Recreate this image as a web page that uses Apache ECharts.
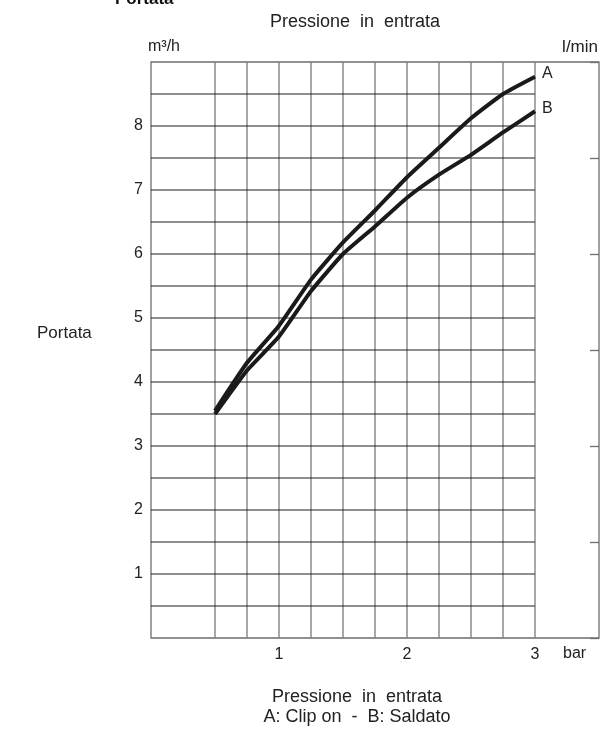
<!DOCTYPE html>
<html>
<head>
<meta charset="utf-8">
<script src="https://cdn.jsdelivr.net/npm/echarts@6/dist/echarts.min.js"></script>
<style>html,body{margin:0;padding:0;background:#fff;}#c{width:607px;height:733px;}</style>
</head>
<body>
<div id="c"></div>
<script>
// Data
var pressure = [0.5, 0.75, 1.0, 1.25, 1.5, 1.75, 2.0, 2.25, 2.5, 2.75, 3.0];
var flowA = [3.55, 4.30, 4.88, 5.60, 6.18, 6.68, 7.20, 7.66, 8.12, 8.50, 8.77];
var flowB = [3.50, 4.18, 4.71, 5.42, 6.00, 6.43, 6.88, 7.24, 7.55, 7.90, 8.23];
var xGridLines = [0.5, 0.75, 1.0, 1.25, 1.5, 1.75, 2.0, 2.25, 2.5, 2.75, 3.0];
var yGridLines = [0.5, 1, 1.5, 2, 2.5, 3, 3.5, 4, 4.5, 5, 5.5, 6, 6.5, 7, 7.5, 8, 8.5];
var xTickLabels = [1, 2, 3];
var yTickLabels = [1, 2, 3, 4, 5, 6, 7, 8];

var FONT = 'Liberation Sans';
var chart = echarts.init(document.getElementById('c'), null, {renderer: 'canvas'});

function pairs(xs, ys) { return xs.map(function (x, i) { return [x, ys[i]]; }); }

var option = {
  animation: false,
  backgroundColor: '#fff',
  textStyle: {fontFamily: FONT},
  grid: {left: 151, right: 8, top: 62, bottom: 95, show: true, borderColor: '#6e6e6e', borderWidth: 1.3, backgroundColor: 'transparent'},
  xAxis: {
    type: 'value', min: 0, max: 3.5, interval: 0.5,
    axisLine: {show: false}, axisTick: {show: false}, splitLine: {show: false},
    axisLabel: {
      margin: 9, color: '#222', fontSize: 16, fontFamily: FONT,
      formatter: function (v) { return xTickLabels.indexOf(v) >= 0 ? String(v) : ''; }
    }
  },
  yAxis: [{
    type: 'value', min: 0, max: 9, interval: 1,
    axisLine: {show: false}, axisTick: {show: false}, splitLine: {show: false},
    axisLabel: {
      margin: 8, color: '#222', fontSize: 16, fontFamily: FONT,
      formatter: function (v) { return yTickLabels.indexOf(v) >= 0 ? String(v) : ''; }
    }
  }, {
    type: 'value', min: 0, max: 150, interval: 25, position: 'right',
    axisLine: {show: false}, splitLine: {show: false},
    axisTick: {show: true, inside: true, length: 9, lineStyle: {color: '#6e6e6e', width: 1.3}},
    axisLabel: {show: false}
  }],
  graphic: [
    {type: 'text', left: 115, top: -9, style: {text: 'Portata', font: 'bold 17px ' + FONT, fill: '#111'}},
    {type: 'text', x: 355, y: 22, style: {text: 'Pressione  in  entrata', font: '18px ' + FONT, fill: '#222', align: 'center', verticalAlign: 'middle'}},
    {type: 'text', x: 148, y: 47, style: {text: 'm³/h', font: '16px ' + FONT, fill: '#222', align: 'left', verticalAlign: 'middle'}},
    {type: 'text', x: 598, y: 47, style: {text: 'l/min', font: '17px ' + FONT, fill: '#222', align: 'right', verticalAlign: 'middle'}},
    {type: 'text', x: 37, y: 333, style: {text: 'Portata', font: '17px ' + FONT, fill: '#222', align: 'left', verticalAlign: 'middle'}},
    {type: 'text', x: 563, y: 654, style: {text: 'bar', font: '16px ' + FONT, fill: '#222', align: 'left', verticalAlign: 'middle'}},
    {type: 'text', x: 357, y: 697, style: {text: 'Pressione  in  entrata', font: '18px ' + FONT, fill: '#222', align: 'center', verticalAlign: 'middle'}},
    {type: 'text', x: 357, y: 717, style: {text: 'A: Clip on  -  B: Saldato', font: '18px ' + FONT, fill: '#222', align: 'center', verticalAlign: 'middle'}}
  ],
  series: [
    {
      type: 'custom', name: 'vgrid', silent: true, z: 1,
      data: xGridLines.map(function (v) { return [v]; }),
      encode: {x: 0},
      renderItem: function (params, api) {
        var v = api.value(0);
        var p0 = api.coord([v, 0]), p1 = api.coord([v, 9]);
        return {type: 'line', shape: {x1: p0[0], y1: p0[1], x2: p1[0], y2: p1[1]}, style: {stroke: '#7a7a7a', lineWidth: 1.3}};
      }
    },
    {
      type: 'custom', name: 'hgrid', silent: true, z: 1,
      data: yGridLines.map(function (v) { return [0, v]; }),
      encode: {x: 0, y: 1},
      renderItem: function (params, api) {
        var v = api.value(1);
        var p0 = api.coord([0, v]), p1 = api.coord([3, v]);
        return {type: 'line', shape: {x1: p0[0], y1: p0[1], x2: p1[0], y2: p1[1]}, style: {stroke: '#1e1e1e', lineWidth: 1}};
      }
    },
    {
      type: 'line', name: 'A', z: 5, data: pairs(pressure, flowA), showSymbol: false, smooth: 0.15,
      lineStyle: {color: '#1a1a1a', width: 4},
      endLabel: {show: true, formatter: '{a}', color: '#222', fontSize: 16, fontFamily: FONT, distance: 7, offset: [0, -3]}
    },
    {
      type: 'line', name: 'B', z: 5, data: pairs(pressure, flowB), showSymbol: false, smooth: 0.15,
      lineStyle: {color: '#1a1a1a', width: 4},
      endLabel: {show: true, formatter: '{a}', color: '#222', fontSize: 16, fontFamily: FONT, distance: 7, offset: [0, -3]}
    }
  ]
};
chart.setOption(option);
</script>
</body>
</html>
